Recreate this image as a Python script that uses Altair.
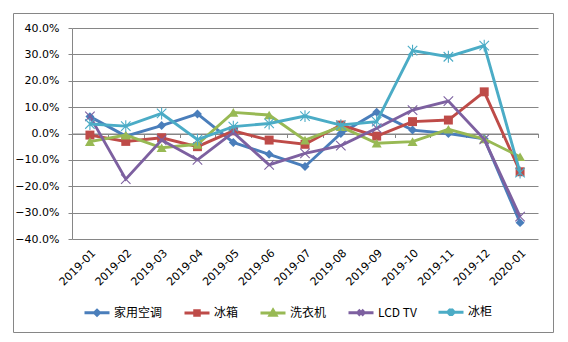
import altair as alt
import pandas as pd

months = ["2019-01", "2019-02", "2019-03", "2019-04", "2019-05", "2019-06", "2019-07",
          "2019-08", "2019-09", "2019-10", "2019-11", "2019-12", "2020-01"]
series = ["家用空调", "冰箱", "洗衣机", "LCD TV", "冰柜"]

# values in percent
ac = [6.4, -1.0, 3.0, 7.4, -3.4, -7.9, -12.5, 0.0, 8.1, 1.3, 0.0, -2.0, -33.8]
fridge = [-0.6, -3.0, -1.6, -5.0, 1.0, -2.5, -4.1, 3.2, -1.0, 4.5, 5.1, 15.8, -14.5]
washer = [-3.1, -0.6, -5.4, -4.1, 8.0, 7.0, -2.5, 2.6, -3.7, -3.1, 1.6, -2.1, -8.8]
lcd = [6.5, -17.3, -2.5, -10.0, 0.4, -11.9, -7.5, -4.6, 2.0, 8.9, 12.3, -2.2, -31.5]
freezer = [3.6, 2.8, 7.6, -2.3, 2.6, 3.8, 6.6, 3.2, 4.5, 31.4, 29.1, 33.3, -14.8]
all_values = [ac, fridge, washer, lcd, freezer]

y_ticks = [-0.4, -0.3, -0.2, -0.1, 0.0, 0.1, 0.2, 0.3, 0.4]

colors = ["#4A7EBB", "#BE4B48", "#98B954", "#7D60A0", "#4BACC6"]
marker_shapes = ["diamond", "square", "triangle-up",
                 "M-1,-1L1,1M-1,1L1,-1",
                 "M-1,-1L1,1M-1,1L1,-1M0,-1.25L0,1.25"]
marker_filled = [True, True, True, False, False]
marker_sizes = [80, 80, 100, 90, 90]
legend_shapes = [
    "M-1,0L1,0M0,-0.2L0.2,0L0,0.2L-0.2,0Z",
    "M-1,0L1,0M-0.18,-0.18L0.18,-0.18L0.18,0.18L-0.18,0.18Z",
    "M-1,0L1,0M0,-0.22L0.24,0.18L-0.24,0.18Z",
    "M-1,0L1,0M-0.22,-0.22L0.22,0.22M-0.22,0.22L0.22,-0.22",
    "M-1,0L1,0M-0.22,-0.22L0.22,0.22M-0.22,0.22L0.22,-0.22M0,-0.3L0,0.3",
]

rows = []
for s, vals in zip(series, all_values):
    for m, v in zip(months, vals):
        rows.append({"month": m, "series": s, "value": v / 100.0})
df = pd.DataFrame(rows)

GRAY = "#868686"
xscale = alt.Scale(type="band", paddingInner=0, paddingOuter=0)

x_lab = alt.X("month:N", sort=months, scale=xscale,
              axis=alt.Axis(title=None, orient="bottom", labelAngle=-45, domain=False,
                            ticks=False, grid=False,
                            labelFont="DejaVu Sans", labelFontSize=11, labelColor="#000000",
                            labelPadding=8))
x_none = alt.X("month:N", sort=months, scale=xscale, axis=None)
x_tick = alt.X("month:N", sort=months, scale=xscale,
               axis=alt.Axis(title=None, orient="bottom", labels=False, domain=True,
                             domainColor=GRAY, ticks=True, tickColor=GRAY, tickSize=4,
                             tickBand="extent", grid=False, offset=-105.5))

y_enc = alt.Y("value:Q",
              scale=alt.Scale(domain=[-0.4, 0.4], nice=False, zero=False),
              axis=alt.Axis(title=None, values=y_ticks, format=".1%", grid=True,
                            gridColor=GRAY, domainColor=GRAY, tickColor=GRAY, tickSize=4,
                            labelPadding=9, labelFont="DejaVu Sans", labelFontSize=11,
                            labelColor="#000000"))

legend_def = alt.Legend(title=None, orient="none", legendX=11, legendY=270,
                        direction="horizontal", columns=5, symbolSize=625,
                        symbolStrokeWidth=3, labelFont="Noto Sans CJK SC",
                        labelFontSize=12, labelColor="#000000", labelOffset=3,
                        columnPadding=15, padding=0, symbolOpacity=1)

layers = []
for i, s in enumerate(series):
    base = alt.Chart(df).transform_filter(alt.datum.series == s)
    line = base.mark_line(color=colors[i], strokeWidth=2.9).encode(
        x=x_lab if i == 0 else x_none, y=y_enc)
    if marker_filled[i]:
        pts = base.mark_point(shape=marker_shapes[i], filled=True, color=colors[i],
                              size=marker_sizes[i], opacity=1)
    else:
        pts = base.mark_point(shape=marker_shapes[i], filled=False, color=colors[i],
                              size=marker_sizes[i], strokeWidth=1.1, opacity=1)
    pts = pts.encode(x=x_none, y=y_enc)
    layers += [line, pts]

leg = alt.Chart(df).transform_filter("false").mark_point(filled=True, opacity=1).encode(
    x=x_tick, y=y_enc,
    fill=alt.Fill("series:N", scale=alt.Scale(domain=series, range=colors), legend=legend_def),
    stroke=alt.Stroke("series:N", scale=alt.Scale(domain=series, range=colors), legend=legend_def),
    shape=alt.Shape("series:N", scale=alt.Scale(domain=series, range=legend_shapes), legend=legend_def),
)

border = alt.Chart(pd.DataFrame({"a": [0]})).mark_rect(
    fillOpacity=0, stroke=GRAY, strokeWidth=1).encode(
    x=alt.value(-58.5), x2=alt.value(481.5), y=alt.value(-14.5), y2=alt.value(304.5))

chart = alt.layer(border, leg, *layers).resolve_axis(x="independent").properties(
    width=466, height=211,
    autosize=alt.AutoSizeParams(type="none"),
    padding={"left": 72, "top": 28, "right": 30, "bottom": 103},
    background="white",
).configure_view(stroke=None)

chart.save("out.html", embed_options={"renderer": "svg", "actions": False})
